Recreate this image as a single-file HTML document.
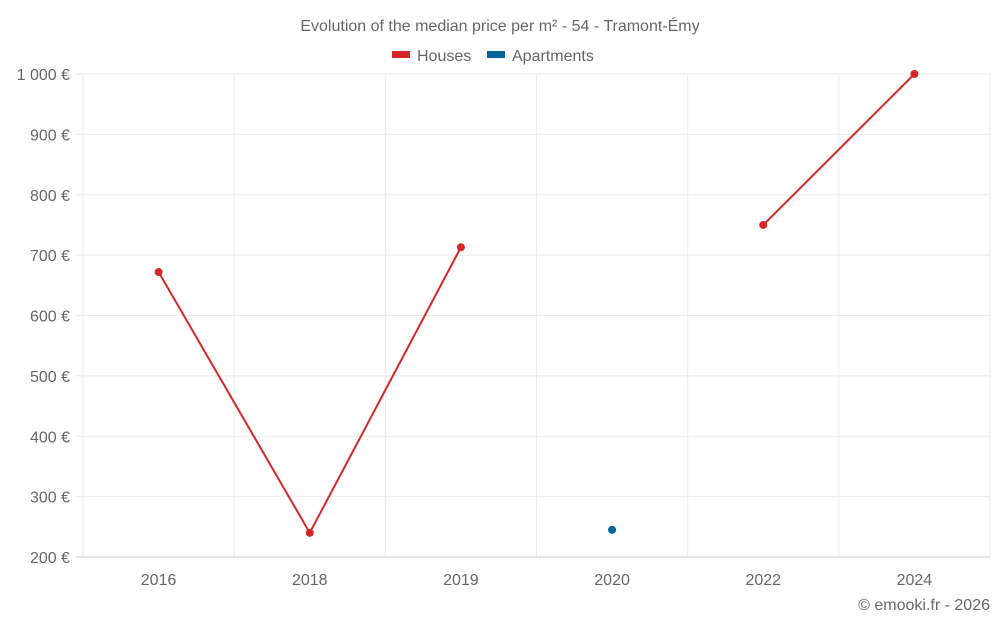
<!DOCTYPE html>
<html><head><meta charset="utf-8"><style>
body{margin:0;background:#fff;font-family:"Liberation Sans",sans-serif;}
svg text{font-family:"Liberation Sans",sans-serif;fill:#666;}
</style></head><body>
<svg id="c" width="1000" height="625">
<text x="500" y="31" text-anchor="middle" font-size="16">Evolution of the median price per m² - 54 - Tramont-Émy</text>
<g>
<g><rect x="392" y="51" width="18" height="7" fill="#d62728"/><text x="417" y="61" font-size="16">Houses</text></g>
<g><rect x="487" y="51" width="18" height="7" fill="#00649e"/><text x="512" y="61" font-size="16">Apartments</text></g>
</g>
<g id="grid"></g><g id="marks"></g>
<text x="990" y="610" text-anchor="end" font-size="16">© emooki.fr - 2026</text>
</svg>
<script>
const categories=["2016","2018","2019","2020","2022","2024"];
const houses=[672,240,713,null,750,1000];
const apartments=[null,null,null,245,null,null];
const yTicks=[200,300,400,500,600,700,800,900,1000];
const ns="http://www.w3.org/2000/svg";
const L=83,R=990,T=74,B=557,yMin=200,yMax=1000;
const bw=(R-L)/categories.length;
const x=i=>L+bw*(i+0.5);
const y=v=>B-(v-yMin)/(yMax-yMin)*(B-T);
function mk(t,a,p){const e=document.createElementNS(ns,t);for(const k in a)e.setAttribute(k,a[k]);p.appendChild(e);return e;}
const g=document.getElementById('grid'),m=document.getElementById('marks');
yTicks.forEach(v=>{
 const l=mk('line',{x1:76,x2:R,y1:y(v),y2:y(v),stroke:v===yMin?'#ccc':'#ebebeb'},g);
 
 
 const t=mk('text',{x:70,y:y(v)+6,'text-anchor':'end','font-size':16},g);
 t.textContent=(v>=1000?'1 000':v)+' €';
 
 
});
for(let i=0;i<=categories.length;i++){
 const l=mk('line',{x1:L+bw*i,x2:L+bw*i,y1:T,y2:B+(i===0?0:0),stroke:'#ebebeb'},g);
 
 
}
categories.forEach((c,i)=>{
 const t=mk('text',{x:x(i),y:585,'text-anchor':'middle','font-size':16},g);
 t.textContent=c;
 
 
});
function series(vals,color,name){
 let seg=[];
 const segs=[];
 vals.forEach((v,i)=>{if(v==null){if(seg.length)segs.push(seg);seg=[];}else seg.push([x(i),y(v)]);});
 if(seg.length)segs.push(seg);
 segs.forEach(s=>{if(s.length>1){
  const p=mk('polyline',{points:s.map(q=>q.join(',')).join(' '),fill:'none',stroke:color,'stroke-width':2},m);
  
  
 }});
 vals.forEach((v,i)=>{if(v!=null){
  const c=mk('circle',{cx:x(i),cy:y(v),r:4,fill:color},m);
  
  
 }});
}
series(houses,'#d62728','houses');
series(apartments,'#00649e','apartments');
</script>
</body></html>
